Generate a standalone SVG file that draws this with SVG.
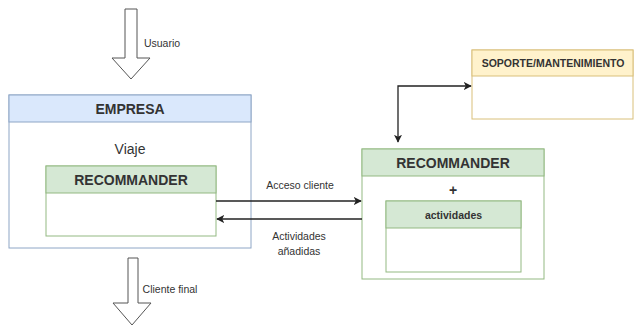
<svg xmlns="http://www.w3.org/2000/svg" width="635" height="327" viewBox="0 0 635 327">
  <defs>
    <style>
      text { font-family: "Liberation Sans", Arial, sans-serif; fill: #333; text-anchor: middle; dominant-baseline: central; }
      .title { font-size: 14px; font-weight: bold; }
      .body { font-size: 14px; }
      .small { font-size: 10.5px; }
      .smallb { font-size: 10.5px; font-weight: bold; }
      .blue-h { fill: #dae8fc; stroke: #8ea6c6; stroke-width: 1; }
      .blue-b { fill: #ffffff; stroke: #8ea6c6; stroke-width: 1; }
      .green-h { fill: #d5e8d4; stroke: #93b982; stroke-width: 1; }
      .green-b { fill: #ffffff; stroke: #93b982; stroke-width: 1; }
      .yellow-h { fill: #fff2cc; stroke: #d9c07a; stroke-width: 1; }
      .yellow-b { fill: #ffffff; stroke: #d9c07a; stroke-width: 1; }
      .flow { fill: #ffffff; stroke: #555; stroke-width: 1; }
      .link { fill: none; stroke: #222; stroke-width: 1.3; }
    </style>
    <marker id="arrow" viewBox="0 0 10 10" refX="9" refY="5" markerWidth="8" markerHeight="8" markerUnits="userSpaceOnUse" orient="auto-start-reverse">
      <path d="M0,0 L10,5 L0,10 L2.5,5 Z" fill="#222"/>
    </marker>
  </defs>

  <!-- EMPRESA container -->
  <g id="empresa">
    <rect class="blue-b" x="9" y="95" width="242" height="153"/>
    <rect class="blue-h" x="9" y="95" width="242" height="27"/>
    <text class="title" x="130" y="108.5">EMPRESA</text>
    <text class="body" x="130" y="149">Viaje</text>
  </g>

  <!-- RECOMMANDER inside EMPRESA -->
  <g id="recommander-left">
    <rect class="green-b" x="46" y="166" width="170" height="70"/>
    <rect class="green-h" x="46" y="166" width="170" height="27"/>
    <text class="title" x="131" y="179.5">RECOMMANDER</text>
  </g>

  <!-- RECOMMANDER + actividades -->
  <g id="recommander-right">
    <rect class="green-b" x="362" y="149" width="182" height="130"/>
    <rect class="green-h" x="362" y="149" width="182" height="27"/>
    <text class="title" x="453" y="162.5">RECOMMANDER</text>
    <text class="title" x="453" y="190">+</text>
  </g>

  <g id="actividades">
    <rect class="green-b" x="386" y="201" width="135" height="71"/>
    <rect class="green-h" x="386" y="201" width="135" height="27"/>
    <text class="smallb" x="453.5" y="214.5">actividades</text>
  </g>

  <!-- SOPORTE/MANTENIMIENTO -->
  <g id="soporte">
    <rect class="yellow-b" x="472" y="50" width="161" height="69"/>
    <rect class="yellow-h" x="472" y="50" width="161" height="26"/>
    <text class="smallb" x="553" y="63">SOPORTE/MANTENIMIENTO</text>
  </g>

  <!-- Flow arrows in and out of EMPRESA -->
  <g id="usuario">
    <path class="flow" d="M125,9 L137,9 L137,58 L150,58 L131,79 L112,58 L125,58 Z"/>
    <text class="small" x="162" y="43">Usuario</text>
  </g>

  <g id="cliente-final">
    <path class="flow" d="M128,258 L138,258 L138,303 L151,303 L132,325 L113,303 L128,303 Z"/>
    <text class="small" x="170" y="289">Cliente final</text>
  </g>

  <!-- Connectors -->
  <g id="connectors">
    <line class="link" x1="216" y1="201" x2="361" y2="201" marker-end="url(#arrow)"/>
    <line class="link" x1="362" y1="219" x2="217" y2="219" marker-end="url(#arrow)"/>
    <path class="link" d="M398,142 L398,86 L471,86" marker-start="url(#arrow)" marker-end="url(#arrow)"/>
    <text class="small" x="300" y="185">Acceso cliente</text>
    <text class="small" x="299" y="236">Actividades</text>
    <text class="small" x="299" y="251">añadidas</text>
  </g>
</svg>
